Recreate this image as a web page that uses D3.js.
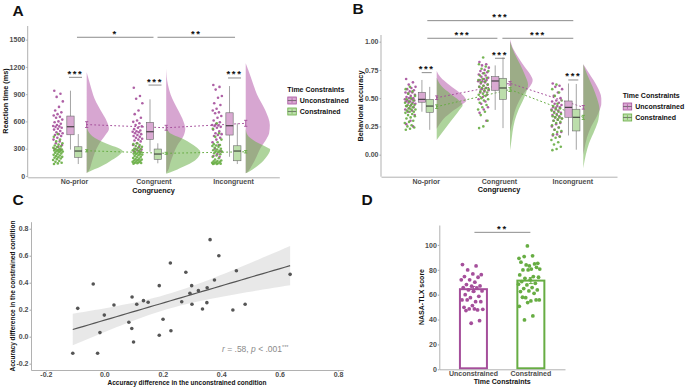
<!DOCTYPE html>
<html><head><meta charset="utf-8">
<script src="https://cdn.jsdelivr.net/npm/d3@7"></script>
<style>
body{margin:0;background:#fff;}
svg text{font-family:"Liberation Sans",Arial,sans-serif;}
</style></head><body>
<svg id="fig" width="685" height="387"></svg>
<script>
// ---------- data ----------
var conditions = ["Unconstrained", "Constrained"];
var congruency = ["No-prior", "Congruent", "Incongruent"];

// A: reaction time (ms) per participant, [no-prior, congruent, incongruent]
var rtUncon = [
  [938,905,870,820,760,720,700,680,665,650,640,620,600,590,575,560,550,545,540,530,520,510,495,480,470,460,450,440,420,400,380,360,340,320,300,290],
  [970,880,850,800,720,680,640,610,595,580,560,545,530,515,500,492,486,480,470,460,450,440,430,420,410,400,390,380,360,340,320,300,290,280,270,266],
  [1000,980,950,880,860,800,780,740,720,700,690,660,640,610,590,570,560,555,550,540,530,510,490,470,460,450,440,420,400,370,340,300,270,240,220,211]
];
var rtCon = [
  [461,430,400,380,360,345,335,325,318,310,300,295,290,285,280,276,272,268,262,255,248,240,232,225,218,210,205,200,192,185,175,165,155,145,138,131],
  [359,350,340,330,320,310,300,295,290,282,275,268,260,252,246,242,240,235,228,220,212,205,198,190,185,180,175,170,165,160,155,150,145,142,139,135],
  [579,520,470,430,400,370,350,340,335,330,320,310,300,290,282,276,272,268,260,250,240,225,210,195,180,170,165,160,155,150,145,140,138,135,132,131]
];
// box stats [lower whisker, q1, median, q3, upper whisker]
var rtBoxUncon = [[290,453,541,659,938],[266,403,486,590,843],[211,450,552,695,989]];
var rtBoxCon = [[131,205,274,321,461],[139,183,241,296,359],[131,167,274,332,579]];
var rtMeanUncon = [565,530,579], rtSeUncon = [32,27,33];
var rtMeanCon = [277,249,266], rtSeCon = [12,11,13];
// density profiles [value, relative density]
var rtDensUncon = [
  [[1140,0],[1000,0.1],[850,0.22],[700,0.42],[600,0.56],[520,0.62],[450,0.52],[350,0.34],[250,0.22],[150,0.14],[60,0.06],[30,0]],
  [[1180,0],[1000,0.05],[900,0.12],[725,0.33],[600,0.48],[520,0.53],[430,0.47],[330,0.3],[240,0.2],[150,0.12],[60,0.05],[30,0]],
  [[1240,0],[1090,0.14],[900,0.31],[725,0.54],[560,0.67],[470,0.65],[410,0.58],[300,0.4],[210,0.3],[120,0.18],[50,0.06],[30,0]]
];
var rtDensCon = [
  [[560,0],[480,0.06],[440,0.15],[395,0.33],[340,0.65],[300,0.92],[275,1.0],[240,0.93],[175,0.7],[100,0.38],[50,0.08],[35,0]],
  [[560,0],[480,0.08],[400,0.5],[320,0.82],[260,0.95],[200,0.88],[170,0.8],[100,0.47],[40,0.12],[25,0]],
  [[520,0],[450,0.05],[376,0.28],[321,0.56],[290,0.68],[211,0.58],[120,0.36],[50,0.1],[30,0]]
];
var rtPairSig = ["***", "***", "***"];
var rtPairSigY = [1085, 1000, 1078];
var rtCongSig = ["*", "**"];

// B: behavioral accuracy
var accUncon = [
  [0.67,0.64,0.62,0.6,0.59,0.58,0.57,0.56,0.55,0.55,0.54,0.53,0.52,0.51,0.5,0.5,0.49,0.49,0.48,0.48,0.47,0.47,0.46,0.46,0.45,0.44,0.43,0.42,0.41,0.4,0.39,0.38,0.35,0.3,0.27,0.25],
  [0.82,0.8,0.79,0.77,0.75,0.74,0.73,0.72,0.71,0.7,0.69,0.68,0.67,0.66,0.66,0.65,0.65,0.64,0.63,0.62,0.61,0.6,0.59,0.58,0.57,0.56,0.55,0.53,0.51,0.49,0.47,0.45,0.42,0.4,0.37,0.3],
  [0.63,0.61,0.6,0.58,0.55,0.52,0.5,0.48,0.47,0.46,0.45,0.44,0.43,0.42,0.42,0.41,0.4,0.39,0.38,0.37,0.36,0.35,0.34,0.33,0.32,0.31,0.3,0.28,0.27,0.25,0.24,0.22,0.2,0.18,0.17,0.16]
];
var accCon = [
  [0.6,0.58,0.56,0.54,0.52,0.5,0.49,0.48,0.47,0.46,0.45,0.44,0.44,0.43,0.43,0.42,0.41,0.4,0.4,0.39,0.38,0.38,0.37,0.36,0.35,0.34,0.33,0.32,0.3,0.29,0.28,0.26,0.25,0.24,0.23,0.22],
  [0.86,0.8,0.78,0.76,0.74,0.72,0.7,0.68,0.67,0.66,0.65,0.64,0.62,0.61,0.6,0.59,0.59,0.58,0.57,0.56,0.55,0.54,0.53,0.52,0.5,0.49,0.48,0.46,0.44,0.42,0.4,0.38,0.35,0.3,0.25,0.235],
  [0.62,0.58,0.55,0.52,0.48,0.45,0.43,0.41,0.4,0.39,0.38,0.37,0.36,0.35,0.34,0.33,0.33,0.32,0.31,0.3,0.29,0.28,0.26,0.24,0.22,0.21,0.2,0.18,0.16,0.15,0.13,0.11,0.09,0.07,0.05,0.04]
];
var accBoxUncon = [[0.38,0.464,0.49,0.552,0.661],[0.396,0.57,0.652,0.69,0.79],[0.17,0.331,0.419,0.475,0.63]];
var accBoxCon = [[0.22,0.375,0.43,0.49,0.6],[0.235,0.49,0.59,0.676,0.86],[0.044,0.21,0.331,0.402,0.626]];
var accMeanUncon = [0.504,0.632,0.419], accSeUncon = [0.016,0.016,0.016];
var accMeanCon = [0.425,0.576,0.33], accSeCon = [0.016,0.017,0.018];
var accDensUncon = [
  [[0.74,0],[0.68,0.12],[0.63,0.3],[0.57,0.55],[0.52,0.75],[0.48,0.82],[0.44,0.68],[0.38,0.42],[0.32,0.2],[0.26,0.06],[0.23,0]],
  [[1.02,0],[0.93,0.1],[0.85,0.25],[0.78,0.4],[0.7,0.58],[0.66,0.63],[0.6,0.55],[0.55,0.4],[0.48,0.26],[0.4,0.15],[0.3,0.07],[0.2,0]],
  [[0.8,0],[0.72,0.16],[0.6,0.39],[0.5,0.5],[0.45,0.5],[0.4,0.46],[0.33,0.36],[0.25,0.22],[0.15,0.1],[0.05,0.03],[0,0]]
];
var accDensCon = [
  [[0.68,0],[0.6,0.15],[0.54,0.38],[0.48,0.62],[0.44,0.72],[0.4,0.64],[0.34,0.5],[0.25,0.28],[0.16,0.07],[0.13,0]],
  [[1.0,0],[0.9,0.12],[0.8,0.28],[0.7,0.42],[0.62,0.5],[0.55,0.45],[0.48,0.36],[0.4,0.24],[0.3,0.13],[0.2,0.07],[0.1,0.03],[0.04,0]],
  [[0.8,0],[0.7,0.12],[0.6,0.26],[0.5,0.38],[0.4,0.45],[0.31,0.42],[0.22,0.32],[0.1,0.16],[0.0,0.07],[-0.12,0]]
];
var accPairSig = ["***", "***", "***"];
var accPairSigY = [0.726, 0.853, 0.661];
var accCongSig = ["***", "***", "***"];

// C: accuracy differences per participant
var diffUncon = [-0.108,-0.091,-0.038,-0.023,-0.015,0.0,0.033,0.084,0.095,0.094,0.1,0.111,0.134,0.15,0.188,0.188,0.201,0.226,0.228,0.265,0.279,0.293,0.299,0.3,0.322,0.336,0.351,0.352,0.362,0.377,0.392,0.44,0.452,0.482,0.636];
var diffCon = [-0.123,0.21,0.39,-0.123,0.03,0.16,0.235,0.107,0.294,0.06,-0.04,0.24,0.267,0.255,0.378,0.01,0.129,0.546,0.044,0.259,0.477,0.321,0.378,0.24,0.341,0.205,0.252,0.363,0.719,0.42,0.6,0.198,0.489,0.24,0.462];

// D: NASA-TLX
var tlxUncon = [84.2,83.1,79.9,76.1,76.7,74.5,74.0,71.9,71.9,70.0,68.1,67.0,66.8,65.7,65.4,63.8,63.0,62.7,60.0,58.7,57.6,55.8,54.4,55.8,54.4,51.2,49.8,47.7,48.5,48.2,48.5,47.2,39.1,37.0];
var tlxCon = [99.2,89.2,91.2,90.6,85.2,83.1,86.1,84.7,83.9,80.6,80.6,79.9,82.0,79.9,75.9,74.5,73.1,74.0,71.9,70.5,69.1,67.8,68.4,65.7,64.9,63.8,63.0,62.5,61.1,57.6,55.8,55.0,57.9,55.8,53.6,50.6,42.9,39.7];
var tlxMean = [64.4, 71.3];
var tlxSe = [2.2, 2.4];

// ---------- drawing ----------
var svg = d3.select("#fig");
var pinkDot = "#a54f9b", greenDot = "#67ad43";
var pinkViol = "#b65dab", greenViol = "#6cb04b";
var pinkBox = "#d9a9d2", greenBox = "#bcdeab";
var axisCol = "#a8a8a8", tickCol = "#4d4d4d";

function styleAxis(sel, fs) {
  sel.attr("font-family", null);
  sel.select(".domain").attr("stroke", axisCol).attr("stroke-width", 0.9);
  sel.selectAll(".tick line").attr("stroke", axisCol);
  sel.selectAll(".tick text").attr("fill", tickCol).attr("font-weight", "bold").attr("font-size", fs || 7);
}
function label(t, x, y, opts) {
  opts = opts || {};
  var el = svg.append("text").attr("x", x).attr("y", y).text(t)
    .attr("font-size", opts.size || 7).attr("font-weight", opts.weight || "bold")
    .attr("fill", opts.fill || "#111").attr("text-anchor", opts.anchor || "start");
  if (opts.rotate) el.attr("transform", "rotate(-90," + x + "," + y + ")");
  return el;
}
function jitter(i, phase) { return ((i * 0.6180339887 + phase) % 1) - 0.5; }
function bracket(x1, x2, y, txt) {
  svg.append("line").attr("x1", x1).attr("x2", x2).attr("y1", y).attr("y2", y)
    .attr("stroke", "#6e6e6e").attr("stroke-width", 0.8);
  svg.append("text").attr("x", (x1 + x2) / 2).attr("y", y - 0.5).text(txt)
    .attr("text-anchor", "middle").attr("font-size", 9.5).attr("font-weight", "bold")
    .attr("letter-spacing", 1.6).attr("fill", "#111");
}
function legend(x, y) {
  label("Time Constraints", x, y, {size: 7});
  [[pinkBox, pinkDot, "Unconstrained"], [greenBox, greenDot, "Constrained"]].forEach(function(k, i) {
    var ky = y + 5.5 + i * 11;
    svg.append("rect").attr("x", x + 0.5).attr("y", ky).attr("width", 8.5).attr("height", 7)
      .attr("fill", k[0]).attr("stroke", k[1]).attr("stroke-width", 0.8);
    svg.append("line").attr("x1", x + 0.5).attr("x2", x + 9).attr("y1", ky + 3.5).attr("y2", ky + 3.5)
      .attr("stroke", "#555").attr("stroke-width", 0.7);
    svg.append("line").attr("x1", x + 4.75).attr("x2", x + 4.75).attr("y1", ky + 1.2).attr("y2", ky + 5.8)
      .attr("stroke", k[1]).attr("stroke-width", 0.7);
    label(k[2], x + 12.5, ky + 6, {size: 7});
  });
}

function rainPanel(cfg) {
  var x = cfg.x, y = cfg.y, g = svg.append("g");
  var w = d3.scaleLinear().domain([0, 1]).range([0, 36]);
  var fills = [pinkViol, greenViol], dots = [pinkDot, greenDot], boxes = [pinkBox, greenBox];

  // half violins
  [cfg.dens[0], cfg.dens[1]].forEach(function(dens, k) {
    dens.forEach(function(prof, i) {
      var base = x(congruency[i]) + cfg.vOff;
      g.append("path")
        .attr("d", d3.area().curve(d3.curveMonotoneY)
          .y(function(d) { return y(d[0]); }).x0(base)
          .x1(function(d) { return base + w(d[1]); })(prof))
        .attr("fill", fills[k]).attr("fill-opacity", 0.55);
    });
  });

  // jittered points
  [cfg.pts[0], cfg.pts[1]].forEach(function(set, k) {
    set.forEach(function(vals, i) {
      var cx = x(congruency[i]) + cfg.pOff;
      g.selectAll(null).data(vals).enter().append("circle")
        .attr("cx", function(d, j) { return cx + jitter(j, k ? 0.47 : 0.13) * cfg.pSpread; })
        .attr("cy", function(d) { return y(d); })
        .attr("r", 1.3).attr("fill", dots[k]).attr("fill-opacity", 0.9);
    });
  });

  // mean dotted lines
  [cfg.mean[0], cfg.mean[1]].forEach(function(m, k) {
    g.append("path").attr("d", d3.line()
        .x(function(d, i) { return x(congruency[i]) + cfg.vOff; })
        .y(function(d) { return y(d); })(m))
      .attr("fill", "none").attr("stroke", dots[k]).attr("stroke-width", 1)
      .attr("stroke-dasharray", "1,3").attr("stroke-linecap", "round");
  });

  // boxes
  [cfg.box[0], cfg.box[1]].forEach(function(bs, k) {
    bs.forEach(function(b, i) {
      var cx = x(congruency[i]) + cfg.bOff[k], bw = 7.3;
      g.append("line").attr("x1", cx).attr("x2", cx).attr("y1", y(b[0])).attr("y2", y(b[4]))
        .attr("stroke", "#8e8e8e").attr("stroke-width", 0.8);
      g.append("rect").attr("x", cx - bw / 2).attr("width", bw)
        .attr("y", y(b[3])).attr("height", y(b[1]) - y(b[3]))
        .attr("fill", boxes[k]).attr("stroke", "#6b6b6b").attr("stroke-width", 0.6);
      g.append("line").attr("x1", cx - bw / 2).attr("x2", cx + bw / 2).attr("y1", y(b[2])).attr("y2", y(b[2]))
        .attr("stroke", "#2b2b2b").attr("stroke-width", 1);
    });
  });

  // mean +- se
  [0, 1].forEach(function(k) {
    cfg.mean[k].forEach(function(m, i) {
      var cx = x(congruency[i]) + cfg.vOff, se = cfg.se[k][i];
      var p = d3.path();
      p.moveTo(cx, y(m - se)); p.lineTo(cx, y(m + se));
      p.moveTo(cx - 1.6, y(m - se)); p.lineTo(cx + 1.6, y(m - se));
      p.moveTo(cx - 1.6, y(m + se)); p.lineTo(cx + 1.6, y(m + se));
      g.append("path").attr("d", p.toString()).attr("stroke", dots[k]).attr("stroke-width", 0.9).attr("fill", "none");
    });
  });
}

// ---------- Panel A ----------
var xA = d3.scalePoint().domain(congruency).range([27.7, 279.3]).padding(0.582);
var yA = d3.scaleLinear().domain([-15, 1650]).range([177.3, 26]);
rainPanel({x: xA, y: yA, vOff: 12.7, pOff: -16, pSpread: 10, bOff: [-3.5, 4.3],
  dens: [rtDensUncon, rtDensCon], pts: [rtUncon, rtCon], box: [rtBoxUncon, rtBoxCon],
  mean: [rtMeanUncon, rtMeanCon], se: [rtSeUncon, rtSeCon]});
svg.append("g").attr("transform", "translate(0,177.3)")
  .call(d3.axisBottom(xA).tickSize(0).tickPadding(2).tickSizeOuter(0)).call(styleAxis);
svg.append("g").attr("transform", "translate(27.7,0)")
  .call(d3.axisLeft(yA).tickValues([0, 300, 600, 900, 1200, 1500]).tickFormat(d3.format("d"))
    .tickSize(1.5).tickPadding(1).tickSizeOuter(0))
  .call(styleAxis).select(".domain").attr("d", "M0,177.3V26");
congruency.forEach(function(c, i) {
  bracket(xA(c) - 5, xA(c) + 8, yA(rtPairSigY[i]), rtPairSig[i]);
});
bracket(xA(congruency[0]) + 3, xA(congruency[1]), yA(1526), rtCongSig[0]);
bracket(xA(congruency[1]) + 4, xA(congruency[2]) + 2, yA(1526), rtCongSig[1]);
label("Congruency", 153.5, 192.5, {anchor: "middle", size: 7.3});
label("Reaction time (ms)", 8, 101, {anchor: "middle", size: 7.3, rotate: true});
label("A", 12.5, 15.5, {size: 15.5});
legend(287.3, 91.5);

// ---------- Panel B ----------
var xB = d3.scalePoint().domain(congruency).range([381, 617]).padding(0.61);
var yB = d3.scaleLinear().domain([-0.195, 1.059]).range([176.7, 35]);
rainPanel({x: xB, y: yB, vOff: 11, pOff: -15.5, pSpread: 11, bOff: [-3.8, 4],
  dens: [accDensUncon, accDensCon], pts: [accUncon, accCon], box: [accBoxUncon, accBoxCon],
  mean: [accMeanUncon, accMeanCon], se: [accSeUncon, accSeCon]});
svg.append("g").attr("transform", "translate(0,176.7)")
  .call(d3.axisBottom(xB).tickSize(0).tickPadding(2).tickSizeOuter(0)).call(styleAxis);
svg.append("g").attr("transform", "translate(381,0)")
  .call(d3.axisLeft(yB).tickValues([0, 0.25, 0.5, 0.75, 1]).tickFormat(d3.format(".2f")).tickSize(1.5).tickPadding(1).tickSizeOuter(0))
  .call(styleAxis).select(".domain").attr("d", "M0,176.7V35");
congruency.forEach(function(c, i) {
  bracket(xB(c) - 4, xB(c) + 6, yB(accPairSigY[i]), accPairSig[i]);
});
bracket(xB(congruency[0]) + 1.6, xB(congruency[2]) + 1, yB(1.186), accCongSig[0]);
bracket(xB(congruency[0]) + 1.6, xB(congruency[1]) - 1.6, yB(1.03), accCongSig[1]);
bracket(xB(congruency[1]) + 3.4, xB(congruency[2]) + 1, yB(1.03), accCongSig[2]);
label("Congruency", 499, 192, {anchor: "middle", size: 7.3});
label("Behavioral accuracy", 363, 106, {anchor: "middle", size: 7.3, rotate: true});
label("B", 352.5, 13.5, {size: 15.5});
legend(622.7, 97.5);

// ---------- Panel C ----------
var xC = d3.scaleLinear().domain([-0.251, 0.818]).range([31, 343.3]);
var yC = d3.scaleLinear().domain([-0.247, 0.852]).range([370, 221.7]);
(function() {
  var n = diffUncon.length;
  var mx = d3.mean(diffUncon), my = d3.mean(diffCon);
  var sxx = d3.sum(diffUncon, function(v) { return (v - mx) * (v - mx); });
  var sxy = d3.sum(diffUncon, function(v, i) { return (v - mx) * (diffCon[i] - my); });
  var b1 = sxy / sxx, b0 = my - b1 * mx;
  var sse = d3.sum(diffUncon, function(v, i) { var r = diffCon[i] - (b0 + b1 * v); return r * r; });
  var s = Math.sqrt(sse / (n - 2)), tq = 2.035;
  var ext = d3.extent(diffUncon);
  var grid = d3.range(0, 41).map(function(k) { return ext[0] + (ext[1] - ext[0]) * k / 40; });
  var band = grid.map(function(v) {
    var fit = b0 + b1 * v, h = tq * s * Math.sqrt(1 / n + (v - mx) * (v - mx) / sxx);
    return [v, fit - h, fit + h, fit];
  });
  svg.append("path").attr("d", d3.area().x(function(d) { return xC(d[0]); })
      .y0(function(d) { return yC(d[1]); }).y1(function(d) { return yC(d[2]); })(band))
    .attr("fill", "#d9d9d9").attr("fill-opacity", 0.6);
  svg.selectAll(null).data(diffUncon).enter().append("circle")
    .attr("cx", function(d) { return xC(d); })
    .attr("cy", function(d, i) { return yC(diffCon[i]); })
    .attr("r", 1.8).attr("fill", "#555");
  svg.append("path").attr("d", d3.line().x(function(d) { return xC(d[0]); }).y(function(d) { return yC(d[3]); })(band))
    .attr("fill", "none").attr("stroke", "#555").attr("stroke-width", 1.2);
})();
svg.append("g").attr("transform", "translate(0,370)")
  .call(d3.axisBottom(xC).tickValues([-0.2, 0, 0.2, 0.4, 0.6, 0.8]).tickFormat(function(d) { return d.toFixed(1); })
    .tickSize(1.5).tickPadding(1).tickSizeOuter(0)).call(styleAxis);
svg.append("g").attr("transform", "translate(31,0)")
  .call(d3.axisLeft(yC).tickValues([-0.2, 0, 0.2, 0.4, 0.6, 0.8]).tickFormat(function(d) { return d.toFixed(1); })
    .tickSize(1.5).tickPadding(1).tickSizeOuter(0)).call(styleAxis);
var ann = svg.append("text").attr("x", 222).attr("y", 352.3).attr("font-size", 8.5).attr("fill", "#8a8a8a");
ann.append("tspan").attr("font-style", "italic").text("r");
ann.append("tspan").text(" = .58, ");
ann.append("tspan").attr("font-style", "italic").text("p");
ann.append("tspan").text(" < .001");
ann.append("tspan").attr("font-size", 5.5).attr("dy", -3).text("***");
label("Accuracy difference in the unconstrained condition", 187, 385, {anchor: "middle", size: 6.5});
label("Accuracy difference in the constrained condition", 14.5, 296, {anchor: "middle", size: 6.5, rotate: true});
label("C", 12.5, 205, {size: 15.5});

// ---------- Panel D ----------
var xD = d3.scaleBand().domain(conditions).range([439.3, 565]).paddingInner(0.495).paddingOuter(0.342);
var yD = d3.scaleLinear().domain([0, 116]).range([369.3, 225]);
var dCols = [pinkDot, greenDot];
svg.selectAll(null).data(tlxMean).enter().append("rect")
  .attr("x", function(d, i) { return xD(conditions[i]) + 1; })
  .attr("width", xD.bandwidth() - 2)
  .attr("y", function(d) { return yD(d); })
  .attr("height", function(d) { return yD(0) - yD(d) - 1; })
  .attr("fill", "#fff").attr("stroke", function(d, i) { return dCols[i]; }).attr("stroke-width", 2);
[tlxUncon, tlxCon].forEach(function(vals, k) {
  var cx = xD(conditions[k]) + xD.bandwidth() / 2;
  svg.selectAll(null).data(vals).enter().append("circle")
    .attr("cx", function(d, j) { return cx - 1.5 + jitter(j, k ? 0.41 : 0.07) * 22; })
    .attr("cy", function(d) { return yD(d); })
    .attr("r", 1.9).attr("fill", dCols[k]);
  var m = tlxMean[k], se = tlxSe[k];
  svg.append("path").attr("d", "M" + (cx - 2) + "," + yD(m - se) + "H" + (cx + 2) + "M" + cx + "," + yD(m - se) + "V" + yD(m + se) + "M" + (cx - 2) + "," + yD(m + se) + "H" + (cx + 2))
    .attr("stroke", dCols[k]).attr("stroke-width", 1).attr("fill", "none");
});
svg.append("g").attr("transform", "translate(0,369.3)")
  .call(d3.axisBottom(xD).tickSize(0).tickPadding(2).tickSizeOuter(0)).call(styleAxis);
svg.append("g").attr("transform", "translate(439.3,0)")
  .call(d3.axisLeft(yD).tickValues([0, 20, 40, 60, 80, 100]).tickSize(1.5).tickPadding(1).tickSizeOuter(0))
  .call(styleAxis);
bracket(xD(conditions[0]) + xD.bandwidth() / 2 + 1, xD(conditions[1]) + xD.bandwidth() / 2 - 0.5, yD(110.1), "**");
label("Time Constraints", 502.2, 384.3, {anchor: "middle", size: 7});
label("NASA-TLX score", 424, 297, {anchor: "middle", size: 7, rotate: true});
label("D", 361.5, 205, {size: 15.5});
</script>
</body></html>
